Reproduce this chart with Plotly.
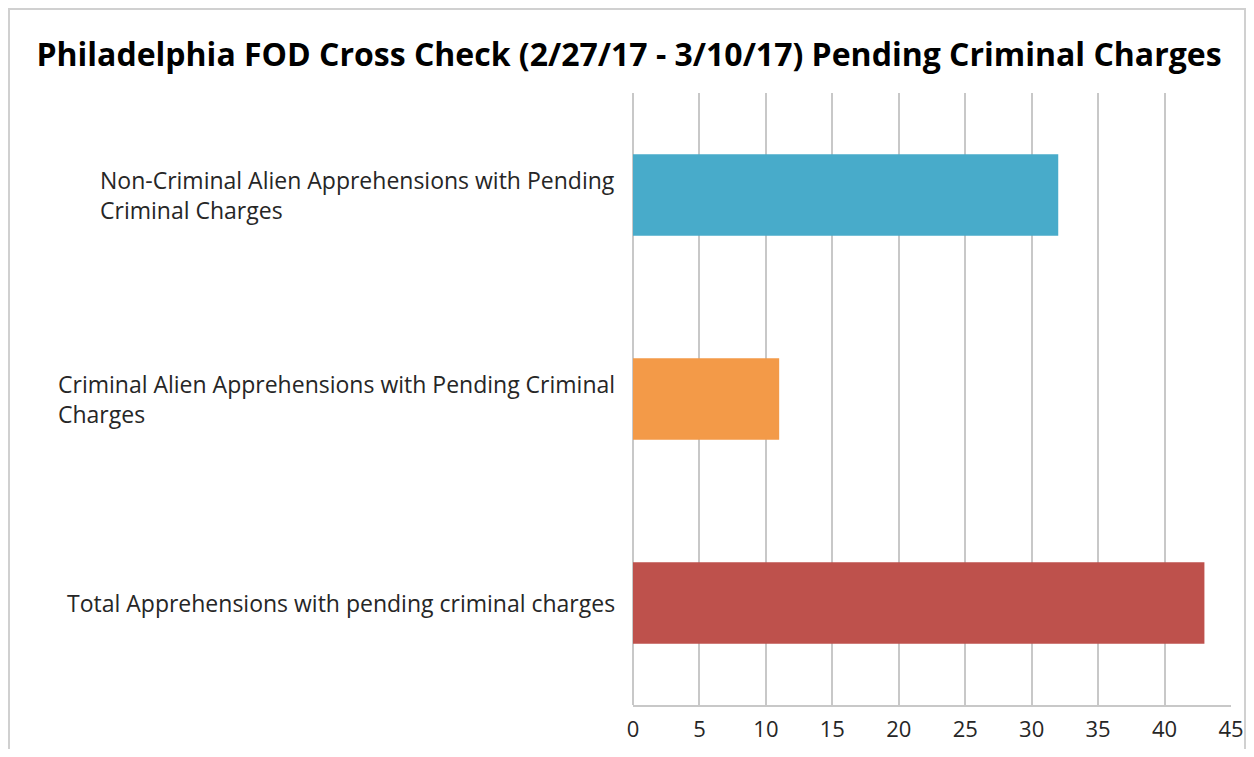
import plotly.graph_objects as go

categories = [
    "Total Apprehensions with pending criminal charges",
    "Criminal Alien Apprehensions with Pending Criminal<br>Charges",
    "Non-Criminal Alien Apprehensions with Pending<br>Criminal Charges",
]
values = [43, 11, 32]
colors = ["#BE514C", "#F39A48", "#48ABCA"]
x_ticks = [0, 5, 10, 15, 20, 25, 30, 35, 40, 45]
title = "Philadelphia FOD Cross Check (2/27/17 - 3/10/17) Pending Criminal Charges"

# page has an 8px body margin on every side; figure coordinates are page minus 8
OFF = 8
W, H = 1254 - 2 * OFF, 757 - 2 * OFF
L = 633 - OFF
R = W - (1231 - OFF)
T = 93 - OFF
B = H - (705 - OFF)
pw, ph = W - L - R, H - T - B

fig = go.Figure()
fig.add_trace(go.Bar(
    y=list(range(len(categories))), x=values, orientation="h",
    marker=dict(color=colors, line=dict(width=0)),
    width=0.4, showlegend=False, hoverinfo="x",
))

font = "'Open Sans', sans-serif"
for i, c in enumerate(categories):
    fig.add_annotation(
        x=-16 / pw, xref="paper", y=i, yref="y",
        text=c, showarrow=False, xanchor="right", yanchor="middle",
        align="left", font=dict(family=font, size=23, color="#262626"),
    )

# outer frame
fig.add_shape(type="rect", xref="paper", yref="paper",
              x0=(1 - L) / pw, x1=(W - 1 - L) / pw,
              y0=(H - B - 800) / ph, y1=(H - B - 1) / ph,
              line=dict(color="#D0D0D0", width=2), layer="below")

fig.update_layout(
    width=W, height=H,
    margin=dict(l=L, r=R, t=T, b=B, autoexpand=False),
    paper_bgcolor="white", plot_bgcolor="white",
    title=dict(text="<b>" + title + "</b>", x=(629 - OFF) / W, xref="container",
               xanchor="center", y=1 - (55 - OFF) / H, yanchor="middle",
               yref="container",
               font=dict(family=font, size=32, color="black")),
    bargap=0.6,
)
fig.update_xaxes(range=[0, 45], tickvals=x_ticks, ticktext=[str(t) for t in x_ticks],
                 automargin=False, ticklabeloverflow="allow",
                 showgrid=True, gridcolor="#C8C8C8", gridwidth=1.5,
                 showline=True, linecolor="#C8C8C8", linewidth=1.5,
                 zeroline=True, zerolinecolor="#C8C8C8", zerolinewidth=1.5,
                 ticks="", tickfont=dict(family=font, size=22, color="#262626"),
                 ticklabelstandoff=4)
fig.update_yaxes(range=[-0.5, 2.5], showticklabels=False, showgrid=False,
                 automargin=False, zeroline=False, showline=False)

fig.write_html("out.html")
